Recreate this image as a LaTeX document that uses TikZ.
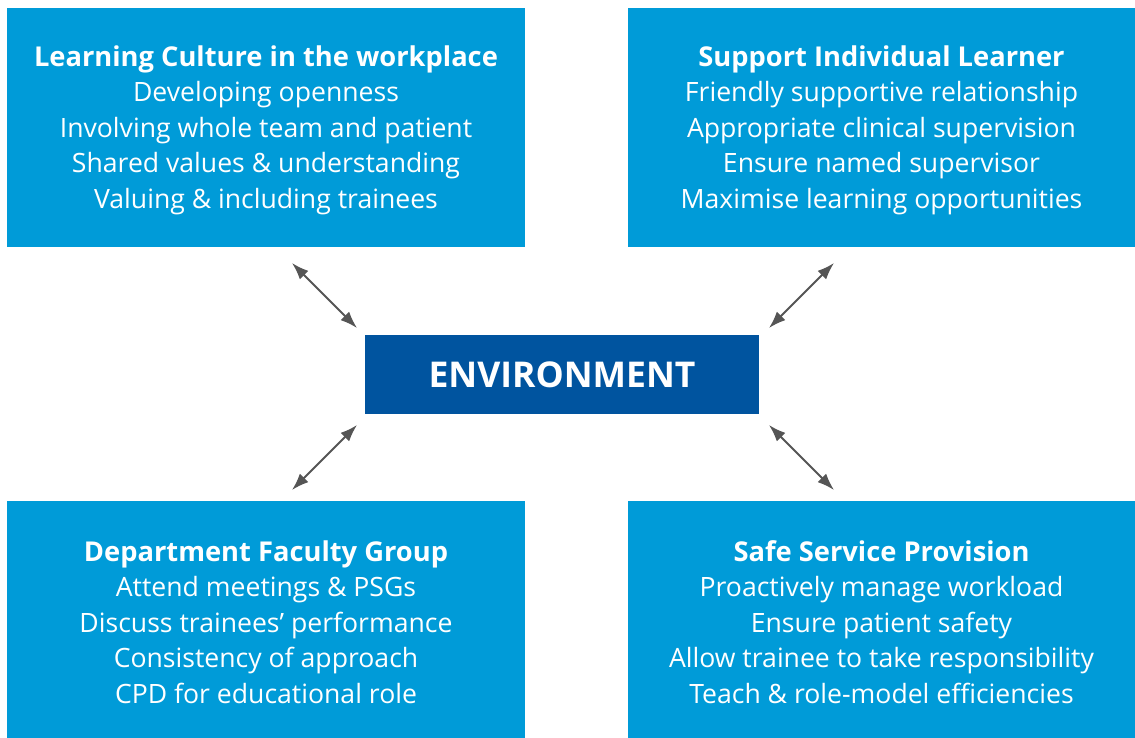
\documentclass[tikz,border=0pt]{standalone}
\usepackage{fontspec}
\setmainfont{Open Sans}
\usetikzlibrary{arrows.meta}
\definecolor{boxblue}{RGB}{0,155,216}
\definecolor{envblue}{RGB}{0,84,159}
\definecolor{arrgray}{RGB}{85,85,85}
\newcommand{\hd}[1]{{\fontsize{27.3}{35.5}\selectfont\bfseries #1}}
\tikzset{
  infobox/.style={fill=boxblue, draw=none, inner sep=0pt},
  infotext/.style={text=white, align=center, inner sep=0pt,
    font=\fontsize{26.6}{35.5}\selectfont},
  envbox/.style={fill=envblue, draw=none, text=white, inner sep=0pt,
    minimum width=394pt, minimum height=79pt, font=\fontsize{35.5}{40}\selectfont\bfseries},
  link/.style={draw=arrgray, line width=1.8pt, {Latex[length=17pt,width=12pt]}-{Latex[length=17pt,width=12pt]}}
}
\begin{document}
\begin{tikzpicture}[x=1pt,y=-1pt]
\useasboundingbox (0,0) rectangle (1135,738);
\node[infobox, minimum width=518pt, minimum height=239pt] (tl) at (266,127.5) {};
\node[infobox, minimum width=507pt, minimum height=239pt] (tr) at (881.5,127.5) {};
\node[infobox, minimum width=518pt, minimum height=237pt] (bl) at (266,619.5) {};
\node[infobox, minimum width=507pt, minimum height=237pt] (br) at (881.5,619.5) {};
\node[infotext] (tlt) at ([yshift=-2.5pt]tl.center)
  {\hd{Learning Culture in the workplace}\\Developing openness\\Involving whole team and patient\\Shared values \& understanding\\Valuing \& including trainees};
\node[infotext] (trt) at ([yshift=-2.5pt]tr.center)
  {\hd{Support Individual Learner}\\Friendly supportive relationship\\Appropriate clinical supervision\\Ensure named supervisor\\Maximise learning opportunities};
\node[infotext] (blt) at ([yshift=-2.5pt]bl.center)
  {\hd{Department Faculty Group}\\Attend meetings \& PSGs\\Discuss trainees’ performance\\Consistency of approach\\CPD for educational role};
\node[infotext] (brt) at ([yshift=-2.5pt]br.center)
  {\hd{Safe Service Provision}\\Proactively manage workload\\Ensure patient safety\\Allow trainee to take responsibility\\Teach \& role-model efficiencies};
\node[envbox] (env) at (562,374.5) {ENVIRONMENT};
\coordinate (a1) at (292,263); \coordinate (a2) at (357,328);
\coordinate (b1) at (834,263); \coordinate (b2) at (769,328);
\coordinate (c1) at (357,425); \coordinate (c2) at (292,490);
\coordinate (d1) at (769,425); \coordinate (d2) at (834,490);
\draw[link] (a1) -- (a2);
\draw[link] (b1) -- (b2);
\draw[link] (c1) -- (c2);
\draw[link] (d1) -- (d2);
\end{tikzpicture}
\end{document}
